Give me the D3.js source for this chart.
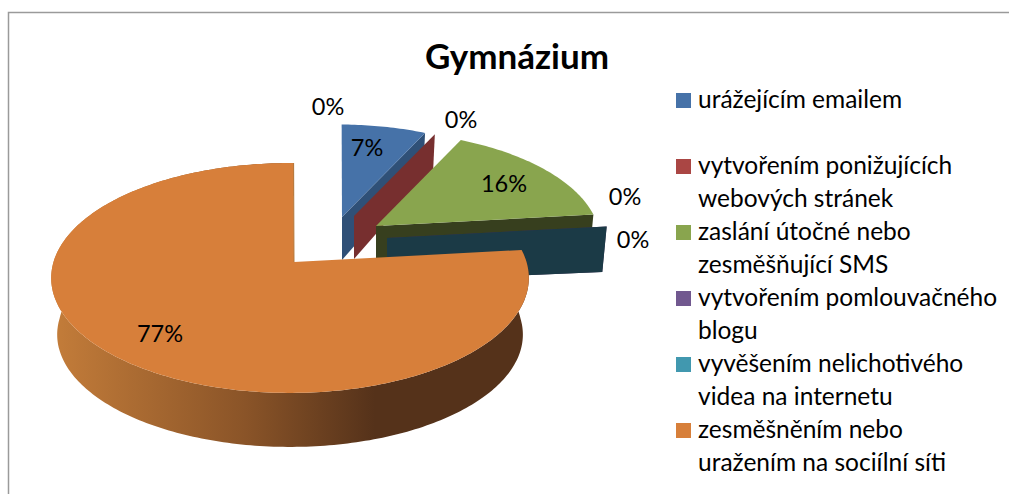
<!DOCTYPE html>
<html><head><meta charset="utf-8">
<script src="https://cdn.jsdelivr.net/npm/d3@7"></script>
<style>html,body{margin:0;padding:0;background:#fff}svg{display:block}text{font-family:Lato,"Open Sans",sans-serif;fill:#000}</style>
</head><body><svg id="c" width="1009" height="494"></svg>
<script>
const title = "Gymnázium";
const legendLines = [["urážejícím emailem"],["vytvořením ponižujících","webových stránek"],["zaslání útočné nebo","zesměšňující SMS"],["vytvořením pomlouvačného","blogu"],["vyvěšením nelichotivého","videa na internetu"],["zesměšněním nebo","uražením na sociílní síti"]];
const values = [7,0,16,0,0,77];
const extraZeroLabels = [0];
const topColors = ["#4672a8","#aa4644","#89a54e","#71588f","#4198af","#d77f3a"];
const wallColors = ["#2f5077","#772f2f","#373f1e","#3f2f55","#1b3a46","#55321a"];
// layout (not data)
const offsets = [[48,-45,.935],[60,-46,.91],[82,-36,.955],[93,-24,.965],[93,-24,.965],[0,0,1]];
const labelAt = [[367,148],[461,120],[504,184],[625,197],[633,240],[160,334]];
const extraLabelAt = [[328,107]];

const svg = d3.select("#c");
const rad = Math.PI/180;
const arcs = d3.pie().sort(null).startAngle(1*rad).endAngle(361*rad)(values);
const C = 0.139, A = -76.3, CY0 = 262, VX = 294, CX = 290, RX = 236.5;
const proj = t => { const u=Math.sin(t), v=Math.cos(t), w=1+C*v; return [CX+RX*u/w,(CY0+A*v)/w,v]; };
const depth = d3.scaleLinear().domain([-1,0,1]).range([54,47,33]);
const orangeDepth = d3.scaleLinear().domain([-1,0,1]).range([54,57,33]);
function rimPts(i,t0,t1){
  const [ox,oy,s]=offsets[i], n=Math.max(1,Math.ceil(Math.abs(t1-t0)/(1*rad)));
  return d3.range(n+1).map(k=>{const p=proj(t0+(t1-t0)*k/n);return [VX+ox+s*(p[0]-VX),CY0+oy+s*(p[1]-CY0),p[2]];});
}
const line = d3.line();
const grad = svg.append("defs").append("linearGradient").attr("id","wall").attr("gradientUnits","userSpaceOnUse").attr("x1",51).attr("x2",375).attr("y1",0).attr("y2",0);
grad.append("stop").attr("offset",0).attr("stop-color","#c47d3a");
grad.append("stop").attr("offset",0.6).attr("stop-color","#8a5428");
grad.append("stop").attr("offset",1).attr("stop-color","#55321a");

// frame
svg.append("path").attr("d","M8.5,494V12.5H1009").attr("fill","none").attr("stroke","#9a9a9a").attr("stroke-width",1.5);

arcs.forEach((a,i)=>{
  const [ox,oy]=offsets[i], V=[VX+ox,CY0+oy], g=svg.append("g");
  const pts=rimPts(i,a.startAngle,a.endAngle);
  if(i===5){
    const bottom=pts.map(p=>[VX-3+(p[0]-VX+3)*0.975,p[1]+orangeDepth(p[2])]);
    g.append("path").attr("d",line(pts.map(p=>p.slice(0,2)).concat(bottom.reverse()))+"Z").attr("fill","url(#wall)");
  } else {
    const e=pts[pts.length-1];
    const eb=[e[0]+(V[0]-e[0])*0.02,e[1]+depth(e[2])];
    g.append("path").attr("d",line([V,e.slice(0,2),eb,[V[0],V[1]+43]])+"Z").attr("fill",wallColors[i]);
  }
  if(a.value>0){
    g.append("path").attr("d",line([V].concat(pts.map(p=>p.slice(0,2))))+"Z").attr("fill",topColors[i]);
  }
  if(i===5){
    const e=pts[pts.length-1];
    g.append("path").attr("d",line([V,e.slice(0,2)])).attr("fill","none").attr("stroke","#b5793c").attr("stroke-width",1);
  }
});

// labels
const pct = d3.format(".0%");
const total = d3.sum(values);
const labelFont = 23.5;
arcs.forEach((a,i)=>{
  const p = labelAt[i];
  svg.append("text").attr("x",p[0]).attr("y",p[1]+8).attr("text-anchor","middle").attr("font-size",labelFont).text(pct(a.value/total));
});
extraZeroLabels.forEach((v,i)=>{
  const p = extraLabelAt[i];
  svg.append("text").attr("x",p[0]).attr("y",p[1]+8).attr("text-anchor","middle").attr("font-size",labelFont).text(pct(v/total));
});

svg.append("text").attr("x",517).attr("y",69).attr("text-anchor","middle").attr("font-size",35).attr("font-weight",700).text(title);

// legend
const rowY = d3.scaleLinear().domain([0,5]).range([100,430]);
legendLines.forEach((ls,i)=>{
  const y=rowY(i);
  svg.append("rect").attr("x",676).attr("y",y-7).attr("width",15).attr("height",15).attr("fill",topColors[i]);
  ls.forEach((l,j)=>svg.append("text").attr("x",698).attr("y",y+8+j*33).attr("font-size",24.5).text(l));
});
</script></body></html>
